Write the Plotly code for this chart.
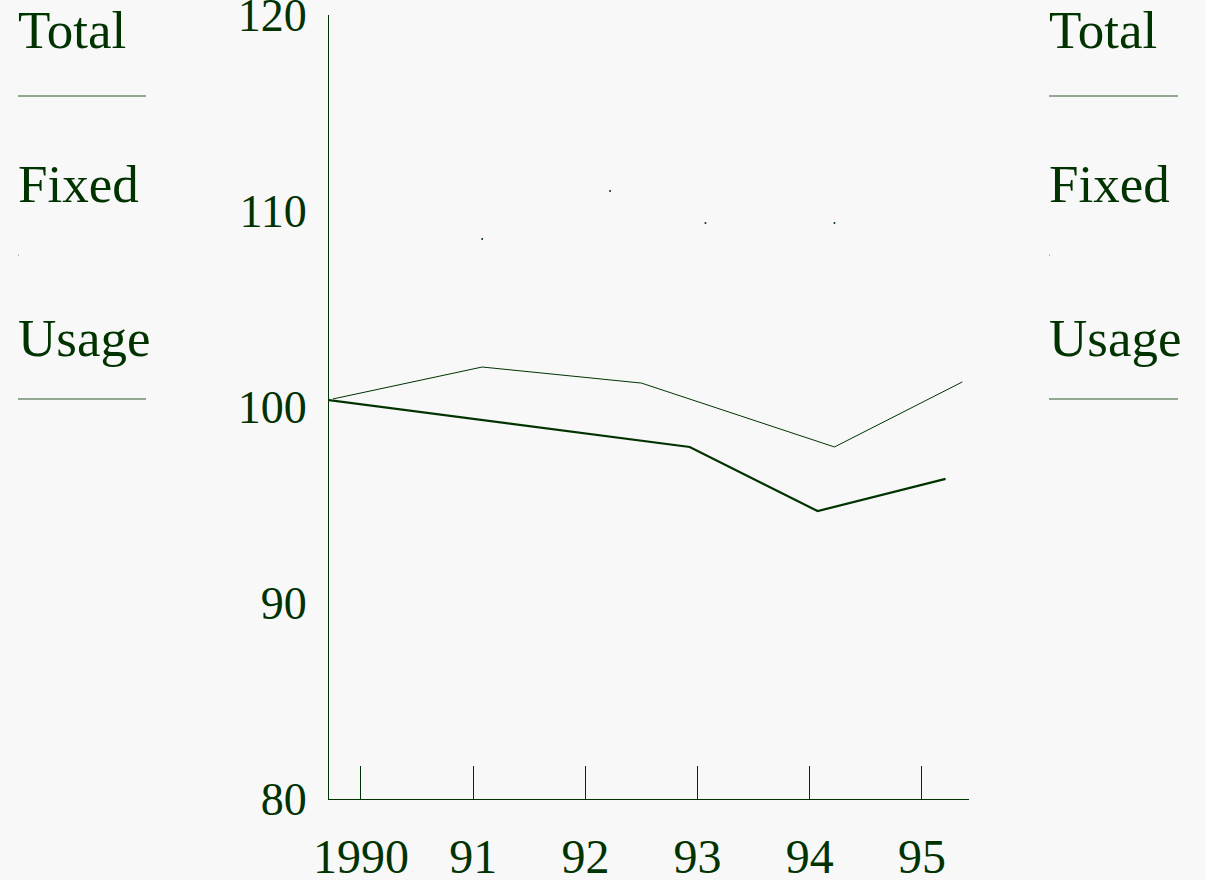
import plotly.graph_objects as go

# ---- data ----
total_x = [1989.75, 1991.08, 1992.50, 1994.22, 1995.36]
total_y = [100.41, 102.04, 101.22, 97.96, 101.28]

usage_x = [1989.64, 1992.93, 1994.07, 1995.21]
usage_y = [100.41, 97.96, 94.69, 96.33]

fixed_x = [1991.08, 1992.22, 1993.07, 1994.22]
fixed_y = [108.57, 111.02, 109.39, 109.39]

x_tick_vals = [1990, 1991, 1992, 1993, 1994, 1995]
x_tick_text = ["1990", "91", "92", "93", "94", "95"]
y_tick_vals = [80, 90, 100, 110, 120]
y_tick_text = ["80", "90", "100", "110", "120"]

legend_names = ["Total", "Fixed", "Usage"]

# ---- style ----
W, H = 1205, 880
BG = "#f8f8f8"
INK = "#003300"
FONT = "Liberation Serif, Times New Roman, serif"


def px(x):
    return x / W


def py(y):
    return 1 - y / H


fig = go.Figure()
fig.add_trace(go.Scatter(x=total_x, y=total_y, mode="lines", name="Total",
                         line=dict(color=INK, width=1), showlegend=False))
fig.add_trace(go.Scatter(x=usage_x, y=usage_y, mode="lines", name="Usage",
                         line=dict(color=INK, width=2.2), showlegend=False))
fig.add_trace(go.Scatter(x=fixed_x, y=fixed_y, mode="markers", name="Fixed",
                         marker=dict(color=INK, size=2), showlegend=False))

# ---- legend blocks (left and right) ----
annotations = []
shapes = []
text_rows = [30, 184, 338]
for left, right in [(18, 146), (1049, 1178)]:
    for name, yy in zip(legend_names, text_rows):
        annotations.append(dict(
            text=name, x=px(left), y=py(yy), xref="paper", yref="paper",
            xanchor="left", yanchor="middle", showarrow=False,
            font=dict(family=FONT, size=53, color=INK), xshift=-2))
    # Total swatch: thin line
    shapes.append(dict(type="line", xref="paper", yref="paper",
                       x0=px(left), x1=px(right), y0=py(96), y1=py(96),
                       line=dict(color="#2f5a2f", width=1)))
    # Fixed swatch: tiny dot
    shapes.append(dict(type="line", xref="paper", yref="paper",
                       x0=px(left), x1=px(left + 1), y0=py(255), y1=py(255),
                       line=dict(color="#6a8a6a", width=1)))
    # Usage swatch: line
    shapes.append(dict(type="line", xref="paper", yref="paper",
                       x0=px(left), x1=px(right), y0=py(399), y1=py(399),
                       line=dict(color="#2f5a2f", width=1)))

fig.update_layout(
    width=W, height=H,
    margin=dict(l=0, r=0, t=0, b=0, autoexpand=False),
    paper_bgcolor=BG, plot_bgcolor=BG,
    font=dict(family=FONT, color=INK),
    showlegend=False,
    annotations=annotations,
    shapes=shapes,
    xaxis=dict(
        domain=[px(329), px(969)],
        range=[1989.715, 1995.419],
        tickmode="array", tickvals=x_tick_vals, ticktext=x_tick_text,
        ticks="inside", ticklen=33, tickwidth=1, tickcolor=INK,
        showline=True, linecolor=INK, linewidth=1,
        showgrid=False, zeroline=False,
        tickfont=dict(family=FONT, size=48, color=INK),
        ticklabelstandoff=15,
        ticklabeloverflow="allow",
        automargin=False,
        fixedrange=True,
    ),
    yaxis=dict(
        domain=[py(799), py(15)],
        range=[80, 120],
        tickmode="array", tickvals=y_tick_vals, ticktext=y_tick_text,
        ticks="",
        showline=True, linecolor=INK, linewidth=1,
        showgrid=False, zeroline=False,
        tickfont=dict(family=FONT, size=46, color=INK),
        ticklabelstandoff=12,
        ticklabeloverflow="allow",
        automargin=False,
        fixedrange=True,
    ),
)

fig.write_html(
    "out.html",
    config={"displayModeBar": False},
    post_script="document.body.style.margin='0';document.body.style.background='#f8f8f8';document.body.style.overflow='hidden';",
)
